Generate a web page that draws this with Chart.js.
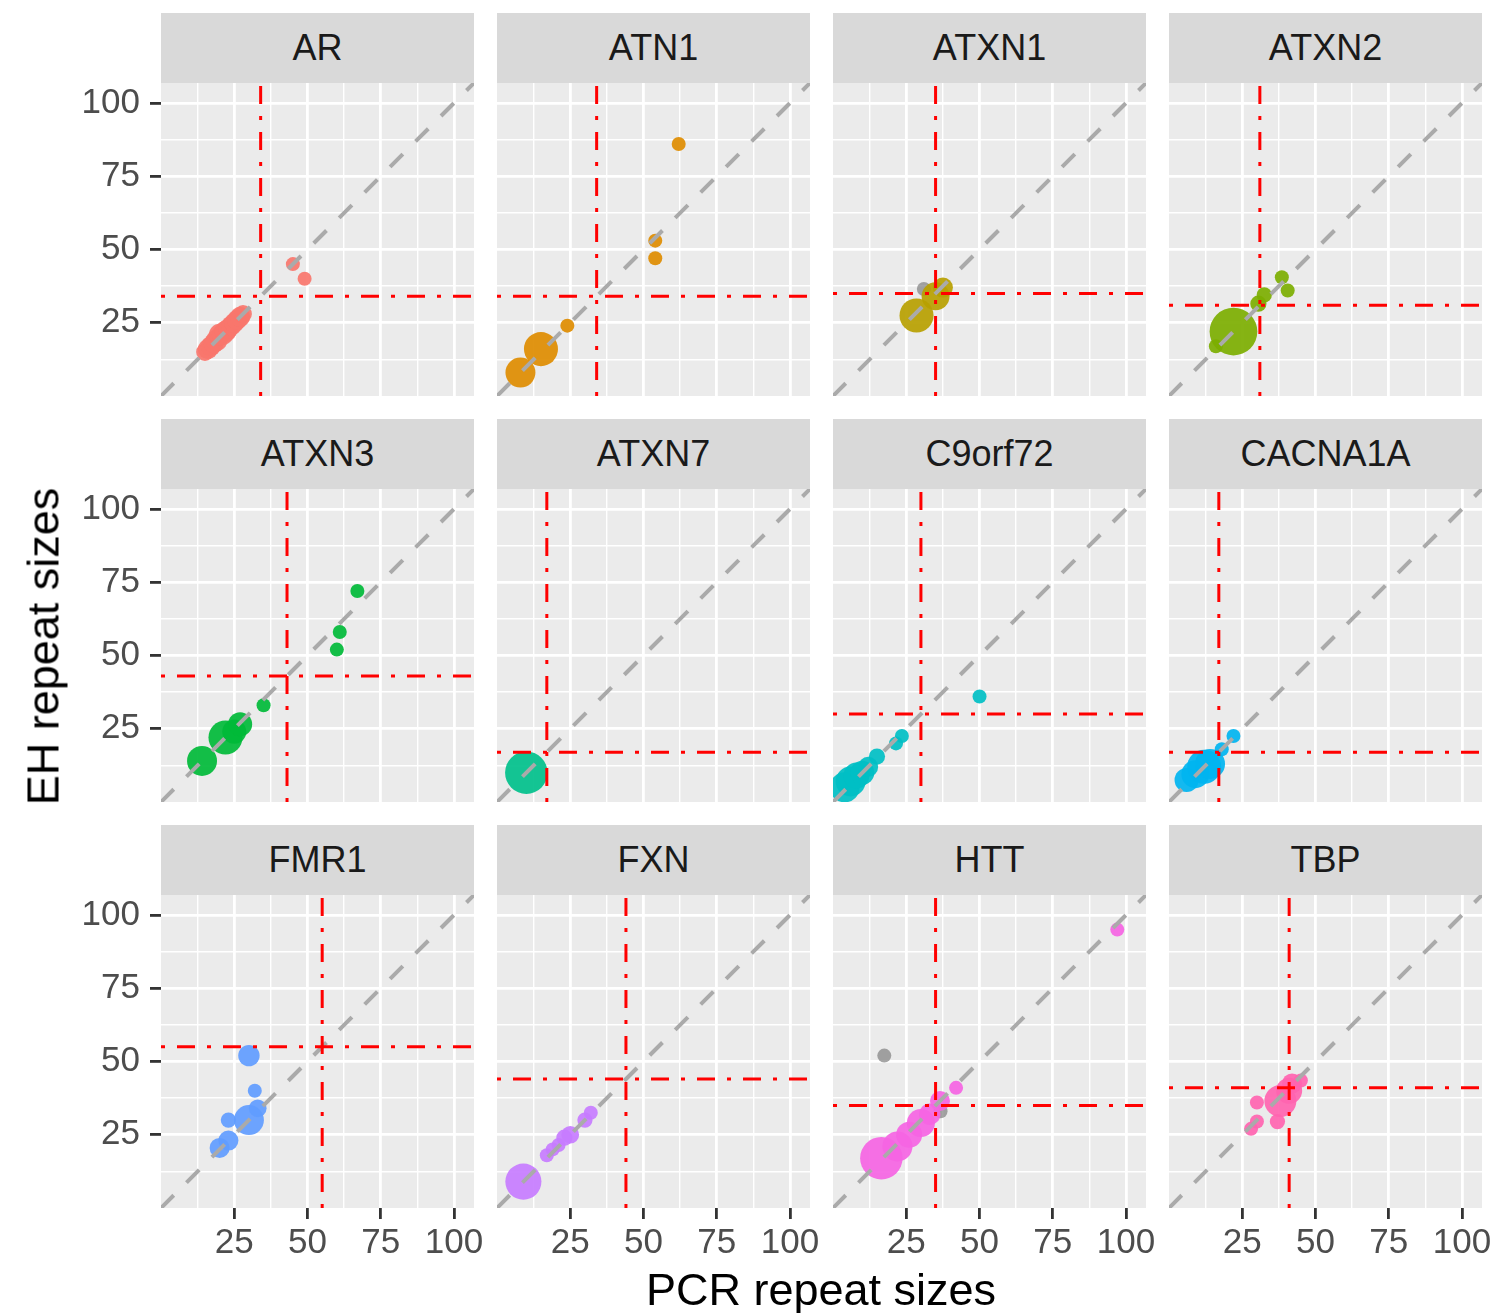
<!DOCTYPE html>
<html>
<head>
<meta charset="utf-8">
<script src="https://cdn.jsdelivr.net/npm/chart.js@4.4.1/dist/chart.umd.min.js"></script>
<style>
  body {
    margin: 0;
    width: 1496px;
    height: 1313px;
    background: #ffffff;
    position: relative;
    overflow: hidden;
    font-family: "Liberation Sans", Arial, sans-serif;
  }
  .strip {
    position: absolute;
    background: #d9d9d9;
    color: #1a1a1a;
    font-size: 36px;
    display: flex;
    align-items: center;
    justify-content: center;
  }
  canvas.panel {
    position: absolute;
  }
  .title {
    position: absolute;
    color: #000000;
    font-size: 45px;
    line-height: 45px;
    text-align: center;
    white-space: nowrap;
  }
</style>
</head>
<body>
<div id="root"></div>
<div class="title" style="left:421px; width:800px; top:1267px; height:45px;">PCR repeat sizes</div>
<div class="title" id="ytitle" style="left:-257px; width:600px; top:624px; height:45px; transform:rotate(-90deg);">EH repeat sizes</div>
<script>
// facets and reference lines
const genes = ["AR", "ATN1", "ATXN1", "ATXN2", "ATXN3", "ATXN7", "C9orf72", "CACNA1A", "FMR1", "FXN", "HTT", "TBP"];
const thresholds = [34, 34, 35, 31, 43, 17, 30, 17, 55, 44, 35, 41];
const colors = ["#F8766D", "#DE8C00", "#B79F00", "#7CAE00", "#00BA38", "#00C08B", "#00BFC4", "#00B4F0", "#619CFF", "#C77CFF", "#F564E3", "#FF64B0"];

// axis
const tickValues = [25, 50, 75, 100];
const minorValues = [12.5, 37.5, 62.5, 87.5];
const AXIS_MIN = 0;
const AXIS_MAX = 106.8;

// points per gene (same order as genes)
const pcrRepeat = [
  [15, 16, 17, 18, 19, 20, 21, 22, 23, 24, 25, 26, 27, 28, 45, 49],
  [8, 15, 24, 54, 54, 62],
  [28.5, 35, 37.5],
  [16, 22, 30.5, 32.5, 38.5, 40.5],
  [14, 22, 25, 27, 35, 60, 61, 67],
  [10],
  [4, 6, 8, 10, 12, 15, 21.5, 23.5, 50],
  [6, 9, 12, 14, 18, 22],
  [20, 23, 23, 30, 33, 32, 30],
  [9, 17, 19, 21, 23, 25, 30, 32],
  [16.5, 22, 26, 30, 33, 36.5, 42, 97],
  [28, 30, 30, 37, 38, 41, 42, 45]
];
const ehRepeat = [
  [15, 16, 17, 18, 19, 21, 21, 22, 23, 24, 25, 26, 27, 28, 45, 40],
  [8, 16, 24, 53, 47, 86],
  [27.5, 34, 37],
  [17, 22, 31.5, 34.5, 40.5, 36],
  [14, 22, 24, 26.5, 33, 52, 58, 72],
  [10],
  [5, 7, 9, 10, 12, 15.5, 20, 22.5, 36],
  [7.5, 9.5, 12, 13, 18, 22.5],
  [20.5, 23, 30, 30, 34, 40, 52],
  [9, 18, 20, 21.5, 24, 25, 30, 32.5],
  [17, 21, 25, 29, 32, 36.5, 41, 95],
  [27, 29.5, 36, 29.5, 36.5, 40, 42.5, 43.5]
];
const sampleCounts = [
  [5, 9, 9, 9, 12, 12, 12, 12, 9, 9, 9, 9, 9, 5, 1, 1],
  [40, 59, 1, 1, 1, 1],
  [59, 32, 9],
  [1, 150, 3, 2, 1, 1],
  [40, 59, 19, 19, 1, 1, 1, 1],
  [110],
  [40, 40, 25, 19, 9, 3, 1, 1, 1],
  [19, 32, 59, 40, 1, 1],
  [9, 9, 2, 40, 5, 1, 12],
  [70, 1, 1, 1, 3, 5, 2, 1],
  [110, 40, 25, 32, 12, 9, 1, 1],
  [1, 1, 1, 2, 49, 25, 9, 1]
];
// grey points
const otherPcr = [[], [], [31], [], [], [], [], [], [], [], [17.5, 36.7], []];
const otherEh = [[], [], [36.5], [], [], [], [], [], [], [], [52, 33], []];
const otherCounts = [[], [], [1], [], [], [], [], [], [], [], [1, 1], []];

// layout
const colLeft = [161, 497, 833, 1169];
const rowTop = [83, 489, 895];
const PANEL = 313;
const STRIP_H = 70;
const PAD_L = 110, PAD_R = 25, PAD_T = 45, PAD_B = 70;
const FONT = "'Liberation Sans', Arial, sans-serif";

Chart.defaults.font.family = FONT;

function radiusFor(n) {
  return 5.5 + 1.5 * Math.sqrt(n);
}

function withAlpha(hex, a) {
  const r = parseInt(hex.slice(1, 3), 16);
  const g = parseInt(hex.slice(3, 5), 16);
  const b = parseInt(hex.slice(5, 7), 16);
  return `rgba(${r}, ${g}, ${b}, ${a})`;
}

const panelBg = {
  id: "panelBg",
  beforeDraw(chart) {
    const { ctx, chartArea: a } = chart;
    ctx.save();
    ctx.fillStyle = "#EBEBEB";
    ctx.fillRect(a.left, a.top, a.right - a.left, a.bottom - a.top);
    ctx.restore();
  }
};

function axisOptions(isX, showLabels) {
  const gridValues = minorValues.concat(tickValues).sort((a, b) => a - b);
  return {
    type: "linear",
    min: AXIS_MIN,
    max: AXIS_MAX,
    afterBuildTicks: (scale) => {
      scale.ticks = gridValues.map((v) => ({ value: v }));
    },
    afterFit: (scale) => {
      if (isX) scale.height = PAD_B;
      else scale.width = PAD_L;
    },
    ticks: {
      display: showLabels,
      autoSkip: false,
      maxRotation: 0,
      minRotation: 0,
      color: "#4D4D4D",
      padding: isX ? 3 : 10,
      font: { size: 35, family: FONT },
      callback: (v) => (tickValues.includes(v) ? String(v) : "")
    },
    grid: {
      color: "#FFFFFF",
      lineWidth: (c) => (tickValues.includes(c.tick.value) ? 2.8 : 1.4),
      drawTicks: showLabels,
      tickLength: 11,
      tickColor: (c) => (tickValues.includes(c.tick.value) ? "#333333" : "rgba(0,0,0,0)"),
      tickWidth: 2.8
    },
    border: { display: false }
  };
}

const root = document.getElementById("root");

genes.forEach((gene, i) => {
  const row = Math.floor(i / 4);
  const col = i % 4;
  const left = colLeft[col];
  const top = rowTop[row];

  // facet strip
  const strip = document.createElement("div");
  strip.className = "strip";
  strip.style.left = left + "px";
  strip.style.top = top - STRIP_H + "px";
  strip.style.width = PANEL + "px";
  strip.style.height = STRIP_H + "px";
  strip.textContent = gene;
  root.appendChild(strip);

  const canvas = document.createElement("canvas");
  canvas.className = "panel";
  canvas.width = PAD_L + PANEL + PAD_R;
  canvas.height = PAD_T + PANEL + PAD_B;
  canvas.style.left = left - PAD_L + "px";
  canvas.style.top = top - PAD_T + "px";
  canvas.style.width = canvas.width + "px";
  canvas.style.height = canvas.height + "px";
  root.appendChild(canvas);

  const pts = pcrRepeat[i].map((x, j) => ({ x: x, y: ehRepeat[i][j] }));
  const counts = sampleCounts[i];
  const greyPts = otherPcr[i].map((x, j) => ({ x: x, y: otherEh[i][j] }));
  const greyCounts = otherCounts[i];
  const t = thresholds[i];

  new Chart(canvas.getContext("2d"), {
    type: "scatter",
    data: {
      datasets: [
        {
          data: greyPts,
          order: 4,
          clip: 0,
          pointRadius: (c) => radiusFor(greyCounts[c.dataIndex] || 1),
          pointBackgroundColor: "rgba(127, 127, 127, 0.7)",
          pointBorderWidth: 0
        },
        {
          data: pts,
          order: 3,
          clip: 0,
          pointRadius: (c) => radiusFor(counts[c.dataIndex] || 1),
          pointBackgroundColor: withAlpha(colors[i], 0.92),
          pointBorderWidth: 0
        },
        {
          // y = x
          data: [{ x: AXIS_MIN, y: AXIS_MIN }, { x: AXIS_MAX, y: AXIS_MAX }],
          order: 2,
          clip: 0,
          showLine: true,
          pointRadius: 0,
          borderColor: "#AAAAAA",
          borderWidth: 4,
          borderDash: [18, 18]
        },
        {
          // vertical threshold
          data: [{ x: t, y: AXIS_MIN }, { x: t, y: AXIS_MAX }],
          order: 1,
          clip: 0,
          showLine: true,
          pointRadius: 0,
          borderColor: "#FF0000",
          borderWidth: 3,
          borderDash: [4, 12, 18, 12]
        },
        {
          // horizontal threshold
          data: [{ x: AXIS_MIN, y: t }, { x: AXIS_MAX, y: t }],
          order: 1,
          clip: 0,
          showLine: true,
          pointRadius: 0,
          borderColor: "#FF0000",
          borderWidth: 3,
          borderDash: [4, 12, 18, 12]
        }
      ]
    },
    options: {
      responsive: false,
      animation: false,
      devicePixelRatio: 1,
      layout: { padding: { left: 0, right: PAD_R, top: PAD_T, bottom: 0 } },
      scales: {
        x: axisOptions(true, row === 2),
        y: axisOptions(false, col === 0)
      },
      plugins: {
        legend: { display: false },
        tooltip: { enabled: false }
      },
      events: []
    },
    plugins: [panelBg]
  });
});
</script>
</body>
</html>
